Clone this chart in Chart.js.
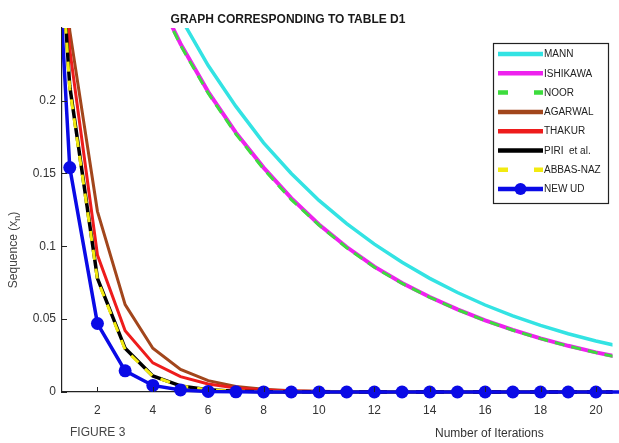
<html>
<head>
<title>Graph corresponding to table D1</title>
<script src="https://cdn.jsdelivr.net/npm/chart.js@4.4.1/dist/chart.umd.min.js"></script>
<style>
  body { margin: 0; background: #fff; }
  #wrap { width: 619px; height: 443px; }
</style>
</head>
<body>
<div id="wrap"><canvas id="myChart" width="619" height="443"></canvas></div>
<script>
// iteration numbers (x values)
var iterations = [0, 1, 2, 3, 4, 5, 6, 7, 8, 9, 10, 11, 12, 13, 14, 15, 16, 17, 18, 19, 20, 21];

// sequence values, one array per method
var mann     = [0.5, 0.45, 0.39, 0.34, 0.295, 0.257, 0.224, 0.196, 0.171, 0.150, 0.1315, 0.1155, 0.1015, 0.089, 0.078, 0.0683, 0.0597, 0.0522, 0.0457, 0.040, 0.035, 0.0307];
var ishikawa = [0.5, 0.437, 0.376, 0.323, 0.278, 0.239, 0.206, 0.178, 0.154, 0.133, 0.115, 0.0995, 0.086, 0.0748, 0.0652, 0.0567, 0.0492, 0.0426, 0.0368, 0.0317, 0.0272, 0.0233];
var noor     = [0.5, 0.436, 0.375, 0.322, 0.277, 0.238, 0.205, 0.177, 0.153, 0.132, 0.1145, 0.099, 0.0856, 0.0745, 0.065, 0.0565, 0.049, 0.0424, 0.0366, 0.0315, 0.027, 0.0231];
var agarwal  = [0.5, 0.248, 0.124, 0.060, 0.030, 0.0155, 0.0078, 0.0038, 0.0019, 0.0009, 0.00045, 0.0002, 0.0001, 0.00005, 0.00002, 0.00001, 0, 0, 0, 0, 0, 0];
var thakur   = [0.5, 0.235, 0.094, 0.042, 0.020, 0.0105, 0.0055, 0.0028, 0.0014, 0.0007, 0.0003, 0.00015, 0.00007, 0.00003, 0.00001, 0, 0, 0, 0, 0, 0, 0];
var piri     = [0.5, 0.21, 0.078, 0.030, 0.011, 0.0042, 0.0016, 0.0006, 0.0002, 0.00008, 0.00003, 0.00001, 0, 0, 0, 0, 0, 0, 0, 0, 0, 0];
var abbasNaz = [0.5, 0.208, 0.077, 0.029, 0.0108, 0.0041, 0.0015, 0.0006, 0.0002, 0.00008, 0.00003, 0.00001, 0, 0, 0, 0, 0, 0, 0, 0, 0, 0];
var newUd    = [0.5, 0.154, 0.047, 0.0145, 0.0045, 0.0014, 0.0004, 0.00013, 0.00004, 0.00001, 0, 0, 0, 0, 0, 0, 0, 0, 0, 0, 0, 0];

var seriesNames = ['MANN', 'ISHIKAWA', 'NOOR', 'AGARWAL', 'THAKUR', 'PIRI  et al.', 'ABBAS-NAZ', 'NEW UD'];

// tick labels
var xTicks = [2, 4, 6, 8, 10, 12, 14, 16, 18, 20];
var yTicks = [0, 0.05, 0.1, 0.15, 0.2];

function pts(arr) {
	return iterations.map(function (x, i) { return { x: x, y: arr[i] }; });
}

var FONT = "'Liberation Sans', Arial, sans-serif";
var lineClip = { left: 0, top: 0, right: 0, bottom: 4 };

var styles = [
	{ color: '#33e3e3', width: 3.5, dash: [] },
	{ color: '#ee22ee', width: 4, dash: [] },
	{ color: '#3ddc3d', width: 3, dash: [10, 7] },
	{ color: '#a2461c', width: 3, dash: [] },
	{ color: '#ee1c1c', width: 3, dash: [] },
	{ color: '#000000', width: 3.5, dash: [] },
	{ color: '#f2ea10', width: 3, dash: [10, 9] },
	{ color: '#0a0ae6', width: 3.5, dash: [] }
];
var seriesData = [mann, ishikawa, noor, agarwal, thakur, piri, abbasNaz, newUd];

var datasets = seriesData.map(function (arr, i) {
	var st = styles[i];
	var isUd = (i === 7);
	return {
		label: seriesNames[i],
		data: pts(arr),
		borderColor: st.color,
		backgroundColor: st.color,
		borderWidth: st.width,
		borderDash: st.dash,
		tension: 0,
		fill: false,
		order: 8 - i,   // later series on top, as in the original
		pointRadius: isUd ? 6.5 : 0,
		pointBorderWidth: 0,
		pointBackgroundColor: st.color,
		clip: isUd ? { left: 0, top: 0, right: 10, bottom: 10 } : lineClip
	};
});

// texts, inward ticks and the boxed legend
var decorPlugin = {
	id: 'decor',
	afterDraw: function (chart) {
		var c = chart.ctx;
		var xs = chart.scales.x, ys = chart.scales.y;
		var area = chart.chartArea;
		c.save();

		// inward tick marks
		c.strokeStyle = '#222';
		c.lineWidth = 1;
		c.beginPath();
		xTicks.forEach(function (v) {
			var px = Math.round(xs.getPixelForValue(v)) + 0.5;
			c.moveTo(px, area.bottom);
			c.lineTo(px, area.bottom - 5);
		});
		yTicks.forEach(function (v) {
			var py = Math.round(ys.getPixelForValue(v)) + 0.5;
			c.moveTo(area.left, py);
			c.lineTo(area.left + 5, py);
		});
		c.stroke();

		// title
		c.fillStyle = '#1a1a1a';
		c.textAlign = 'center';
		c.textBaseline = 'middle';
		c.font = 'bold 12px ' + FONT;
		c.fillText('GRAPH CORRESPONDING TO TABLE D1', 288, 20, 238);

		// bottom texts
		c.fillStyle = '#444';
		c.font = '12px ' + FONT;
		c.textAlign = 'left';
		c.fillText('FIGURE 3', 70, 433, 68);
		c.fillStyle = '#333';
		c.fillText('Number of Iterations', 435, 434, 128);

		// y axis label with subscript
		c.save();
		c.translate(14, 250);
		c.rotate(-Math.PI / 2);
		c.fillStyle = '#444';
		c.font = '12px ' + FONT;
		var a = 'Sequence (x', b = 'n', d = ')';
		var wa = c.measureText(a).width;
		c.font = '9px ' + FONT;
		var wb = c.measureText(b).width;
		c.font = '12px ' + FONT;
		var wd = c.measureText(d).width;
		var x0 = -(wa + wb + wd) / 2;
		c.textAlign = 'left';
		c.fillText(a, x0, 0);
		c.font = '9px ' + FONT;
		c.fillText(b, x0 + wa, 4);
		c.font = '12px ' + FONT;
		c.fillText(d, x0 + wa + wb, 0);
		c.restore();

		// legend box
		var lx = 493, ly = 43, lw = 115, lh = 160;
		c.fillStyle = '#fff';
		c.fillRect(lx, ly, lw, lh);
		c.strokeStyle = '#222';
		c.lineWidth = 1.2;
		c.strokeRect(lx + 0.5, ly + 0.5, lw, lh);
		seriesNames.forEach(function (name, i) {
			var st = styles[i];
			var y = 54 + i * 19.3;
			c.beginPath();
			c.setLineDash(st.dash.length ? [10, 26] : []);
			c.strokeStyle = st.color;
			c.lineWidth = 4.5;
			c.moveTo(498, y);
			c.lineTo(543, y);
			c.stroke();
			c.setLineDash([]);
			if (i === 7) {
				c.beginPath();
				c.fillStyle = st.color;
				c.arc(520.5, y, 6, 0, Math.PI * 2);
				c.fill();
			}
			c.fillStyle = '#222';
			c.font = '10px ' + FONT;
			c.textAlign = 'left';
			c.textBaseline = 'middle';
			c.fillText(name, 544, y + 0.5, 63);
		});
		c.restore();
	}
};

var ctx = document.getElementById('myChart').getContext('2d');
var myChart = new Chart(ctx, {
	type: 'line',
	data: { datasets: datasets },
	options: {
		responsive: false,
		animation: false,
		devicePixelRatio: 1,
		layout: { padding: { left: 0, top: 28, right: 0, bottom: 0 } },
		plugins: {
			legend: { display: false },
			title: { display: false },
			tooltip: { enabled: false }
		},
		scales: {
			x: {
				type: 'linear',
				min: 0.72,
				max: 20.6,
				grid: { display: false, drawTicks: false },
				border: { display: true, color: '#222', width: 1.2 },
				afterBuildTicks: function (s) { s.ticks = xTicks.map(function (v) { return { value: v }; }); },
				afterFit: function (s) { s.height = 51; },
				ticks: {
					padding: 11,
					color: '#333',
					font: { family: FONT, size: 12 },
					maxRotation: 0,
					callback: function (v) { return String(v); }
				}
			},
			y: {
				type: 'linear',
				min: 0,
				max: 0.2498,
				grid: { display: false, drawTicks: false },
				border: { display: true, color: '#222', width: 1.2 },
				afterBuildTicks: function (s) { s.ticks = yTicks.map(function (v) { return { value: v }; }); },
				afterFit: function (s) { s.width = 62; },
				ticks: {
					padding: 6,
					color: '#333',
					font: { family: FONT, size: 12 },
					callback: function (v) { return String(v); }
				}
			}
		}
	},
	plugins: [decorPlugin]
});
</script>
</body>
</html>
